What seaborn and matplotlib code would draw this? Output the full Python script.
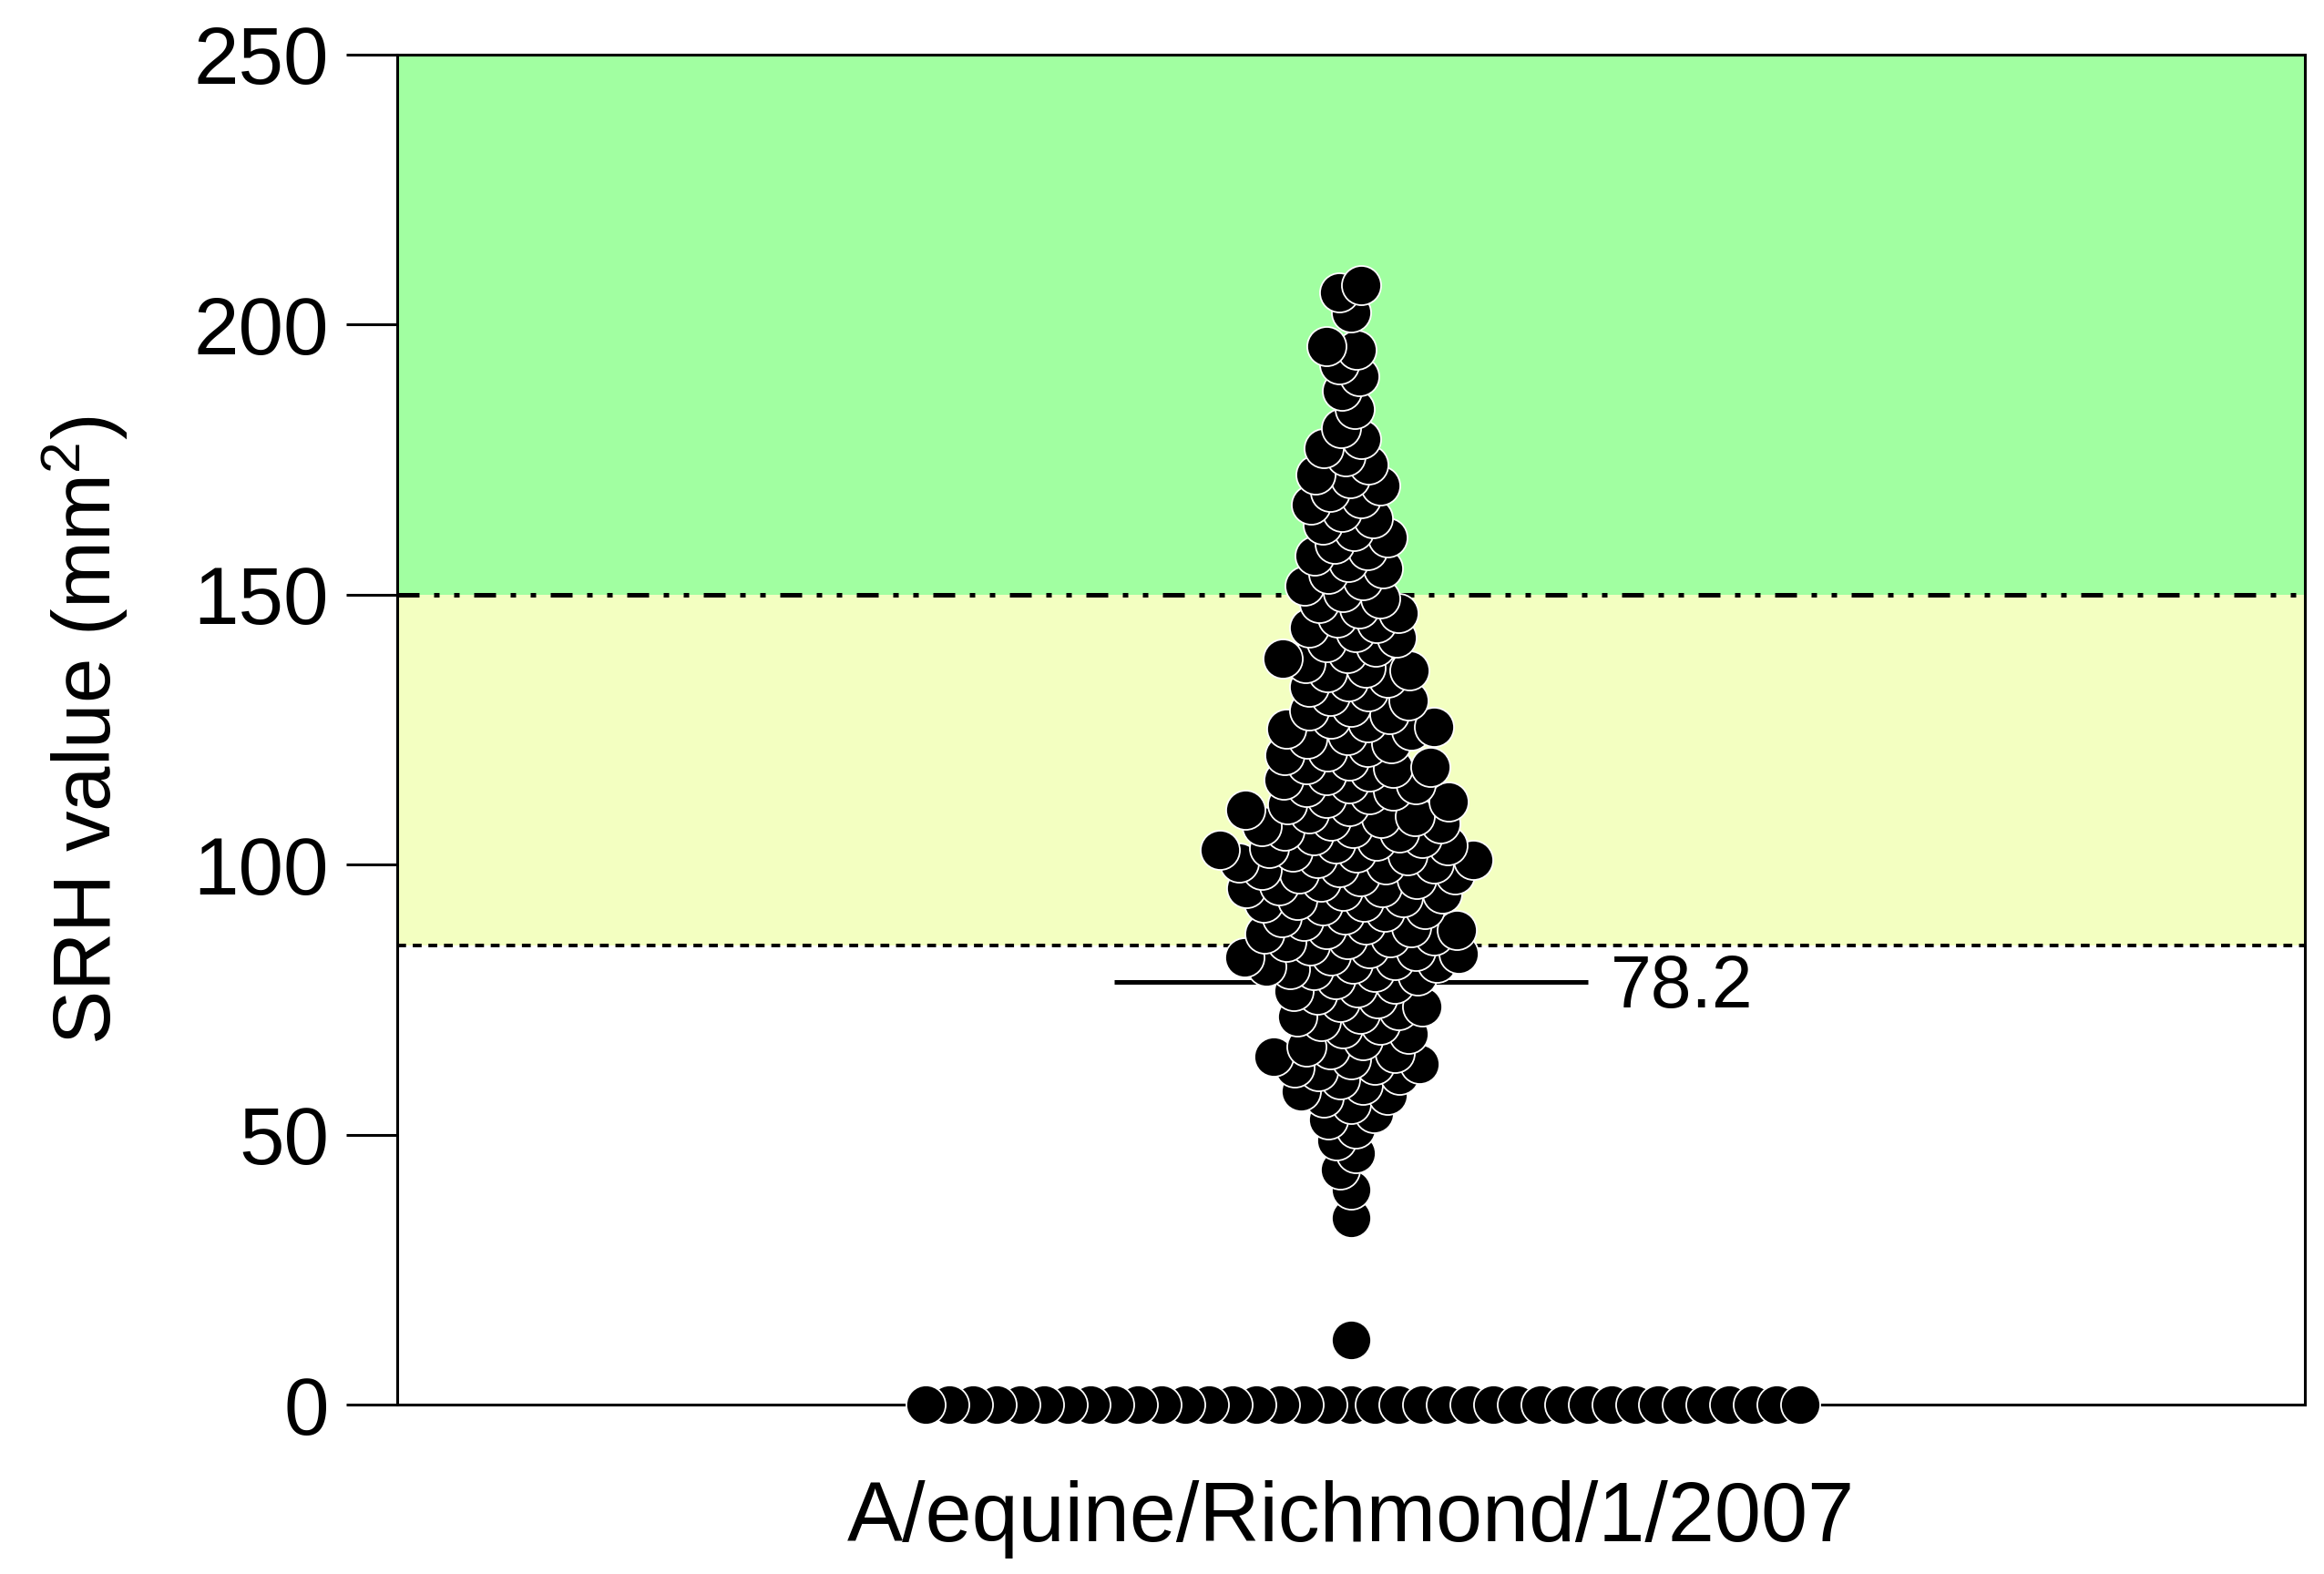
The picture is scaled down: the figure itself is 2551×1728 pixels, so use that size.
import numpy as np
import pandas as pd
import matplotlib
matplotlib.use("Agg")
import matplotlib.pyplot as plt
import seaborn as sns

# ---------------- data ----------------
strain = "A/equine/Richmond/1/2007"
n_zero = 38                      # sera with SRH = 0 (row on the baseline)
srh_low = [12.0,
           34.6, 39.8, 43.5, 46.6, 48.9,
           51.2, 52.8, 54.0, 55.7, 56.9, 57.4, 58.1, 59.3,
           60.2, 61.0, 61.8, 62.5, 62.9, 63.1, 63.9, 64.4, 65.2, 65.8, 66.3, 67.5, 68.6, 69.7,
           70.3, 71.1, 71.8, 72.4, 73.0, 73.7, 74.5, 75.2, 75.9, 76.6, 77.3, 78.0, 78.8, 79.5,
           80.1, 80.4, 80.7, 81.2, 81.6, 81.9, 82.4, 82.9, 83.2, 83.5, 84.0, 84.6]
srh_mid = [85.1, 85.7, 86.2, 86.5, 86.8, 87.3, 87.9, 88.1, 88.4, 88.9, 89.5,
           90.2, 90.7, 91.3, 91.8, 92.4, 92.9, 93.2, 93.5, 94.0, 94.6, 95.1, 95.7, 95.9,
           96.2, 96.8, 97.3, 97.9, 98.1, 98.4, 99.0, 99.5,
           100.0, 100.2, 100.4, 100.9, 101.3, 101.8, 102.2, 102.4, 102.7, 103.1,
           103.6, 104.0, 104.5, 105.0, 105.4, 105.9, 106.3, 106.8, 107.2, 107.7, 108.1,
           108.6, 109.0, 109.5,
           110.2, 110.9, 111.2, 111.6, 112.3, 113.0, 113.7, 114.4, 114.8, 115.1, 115.8, 116.5,
           117.2, 117.9, 118.1, 118.6, 119.3,
           120.3, 121.0, 121.8, 122.5, 123.3, 124.0, 124.8, 125.1, 125.5, 126.3, 127.0, 127.8,
           128.5, 129.3,
           130.4, 131.2, 132.1, 133.0, 133.9, 134.7, 135.6, 136.0, 136.5, 137.4, 138.2, 139.1,
           140.3, 141.2, 142.1, 143.0, 143.9, 144.8, 145.7, 146.6, 147.5, 148.4, 149.3]
srh_high = [150.5, 151.6, 152.7, 153.8, 154.9, 156.0, 157.2, 158.3, 159.4,
            160.6, 161.8, 163.0, 164.2, 165.4, 166.6, 167.8, 169.0,
            170.2, 171.5, 172.3, 174.1, 175.6, 177.2, 178.8,
            180.9, 184.3, 187.8,
            190.5, 192.6, 195.4, 196.1,
            202.3, 205.9, 207.4]
summary_value = 78.2             # value printed next to the horizontal bar
threshold_protect = 150          # dash-dot-dot line
threshold_low = 85               # dotted line
y_ticks = [0, 50, 100, 150, 200, 250]

values = [0.0] * n_zero + srh_low + srh_mid + srh_high
df = pd.DataFrame({"strain": [strain] * len(values), "srh": values})

# ---------------- style ----------------
sns.set_theme(style="white")
plt.rcParams["font.family"] = ["Liberation Sans", "DejaVu Sans"]
plt.rcParams["mathtext.fontset"] = "custom"
plt.rcParams["mathtext.rm"] = "Liberation Sans"
plt.rcParams["mathtext.it"] = "Liberation Sans:italic"
plt.rcParams["text.color"] = "black"

FS = 64
fig = plt.figure(figsize=(25.51, 17.28), dpi=100)
ax = fig.add_axes([0.1709, 0.1076, 0.8209, 0.8577])

green = "#A1FFA1"
yellow = "#F3FFC1"
ax.axhspan(threshold_protect, 250, color=green, zorder=0, lw=0)
ax.axhspan(threshold_low, threshold_protect, color=yellow, zorder=0, lw=0)
ax.axhline(threshold_protect, color="black", lw=3.6, zorder=1,
           dashes=(4.8, 3.2, 1.2, 3.2, 1.2, 3.2), dash_capstyle="butt")
ax.axhline(threshold_low, color="black", lw=2.8, zorder=1,
           dashes=(2.5, 1.9), dash_capstyle="butt")

# summary bar (behind the points)
ax.hlines(summary_value, -0.124, 0.124, color="black", lw=3.6, zorder=2)

# swarm laid out with a small footprint, then drawn with bigger overlapping dots
sns.swarmplot(data=df, x="strain", y="srh", color="black", size=16.5,
              edgecolor="white", linewidth=1.3, ax=ax, zorder=3)
pts = ax.collections[-1]
ax.set_xlim(-0.5, 0.5)
ax.set_ylim(0, 250)
fig.canvas.draw()
if "draw" in pts.__dict__:
    del pts.draw
pts.set_sizes([31.0 ** 2])
pts.set_clip_on(False)

ax.annotate(f"{summary_value:.1f}", xy=(0.136, summary_value), xytext=(0, -5),
            textcoords="offset points", fontsize=58, va="center", ha="left",
            color="black", zorder=4)

ax.set_yticks(y_ticks)
ax.set_yticklabels([str(t) for t in y_ticks])
ax.tick_params(axis="y", which="major", length=40, width=2.2, direction="out",
               labelsize=FS, pad=14, colors="black", left=True)
ax.tick_params(axis="x", length=0, labelsize=66, pad=60, colors="black")
ax.set_xlabel("")
ax.set_ylabel("SRH value (mm$^{2}$)", fontsize=FS, labelpad=50, color="black")
for s in ax.spines.values():
    s.set_visible(True)
    s.set_color("black")
    s.set_linewidth(2.2)

fig.savefig("out.png", dpi=100, facecolor="white")
